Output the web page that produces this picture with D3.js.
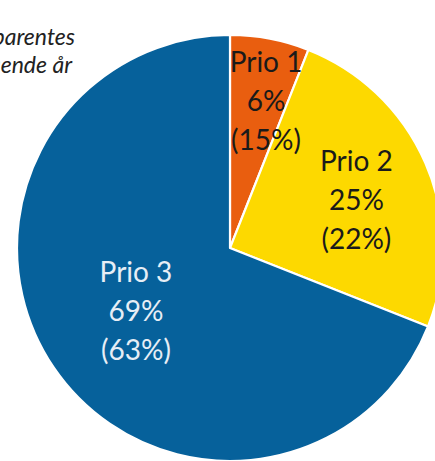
<!DOCTYPE html>
<html><head><meta charset="utf-8">
<script src="https://cdn.jsdelivr.net/npm/d3@7"></script>
<style>html,body{margin:0;padding:0;background:#fff;overflow:hidden}</style>
</head><body>
<svg id="c" width="435" height="461"></svg>
<script>
const categories = ["Prio 1", "Prio 2", "Prio 3"];
const currentShare = [6, 25, 69];
const previousShare = [15, 22, 63];
const noteLines = ["Tall i parentes", "gjelder foregående år"];

const colors = ["#E95E0F", "#FDD900", "#06619B"];
const textColors = ["#1a1a1a", "#1a1a1a", "#E6EEF6"];
// label placement: radius and angle nudge (degrees) relative to slice middle
const labelRadius = [142, 132, 119];
const labelNudge = [3.9, 6.6, -3.6];

const svg = d3.select("#c");
const cx = 230, cy = 248, R = 213;
const g = svg.append("g").attr("transform", `translate(${cx},${cy})`);

const data = categories.map((c, i) => ({cat: c, cur: currentShare[i], prev: previousShare[i], i}));
const pie = d3.pie().value(d => d.cur).sort(null);
const arc = d3.arc().innerRadius(0).outerRadius(R);
const arcs = pie(data);

g.selectAll("path").data(arcs).join("path")
  .attr("d", arc)
  .attr("fill", d => colors[d.data.i])
  .attr("stroke", "#fff")
  .attr("stroke-width", 2.2)
  .attr("stroke-linejoin", "round");

const lab = g.selectAll("g.lab").data(arcs).join("g").attr("class", "lab")
  .attr("transform", d => {
    const a = (d.startAngle + d.endAngle) / 2 + labelNudge[d.data.i] * Math.PI / 180;
    const r = labelRadius[d.data.i];
    return `translate(${r * Math.sin(a)},${-r * Math.cos(a)})`;
  });
lab.each(function(d) {
  const lines = [d.data.cat, d.data.cur + "%", "(" + d.data.prev + "%)"];
  d3.select(this).selectAll("text").data(lines).join("text")
    .attr("text-anchor", "middle")
    .attr("y", (t, k) => (k - 1) * 39)
    .attr("font-family", "Lato, 'Open Sans', sans-serif")
    .attr("font-size", 28)
    .attr("fill", textColors[d.data.i])
    .text(t => t);
});

svg.selectAll("text.note").data(noteLines).join("text")
  .attr("class", "note")
  .attr("text-anchor", "end")
  .attr("x", (t, k) => k === 0 ? 75 : 72)
  .attr("y", (t, k) => 45 + k * 28)
  .attr("font-family", "Lato, 'Open Sans', sans-serif")
  .attr("font-style", "italic")
  .attr("font-size", 23)
  .attr("fill", "#222")
  .text(t => t);
</script>
</body></html>
